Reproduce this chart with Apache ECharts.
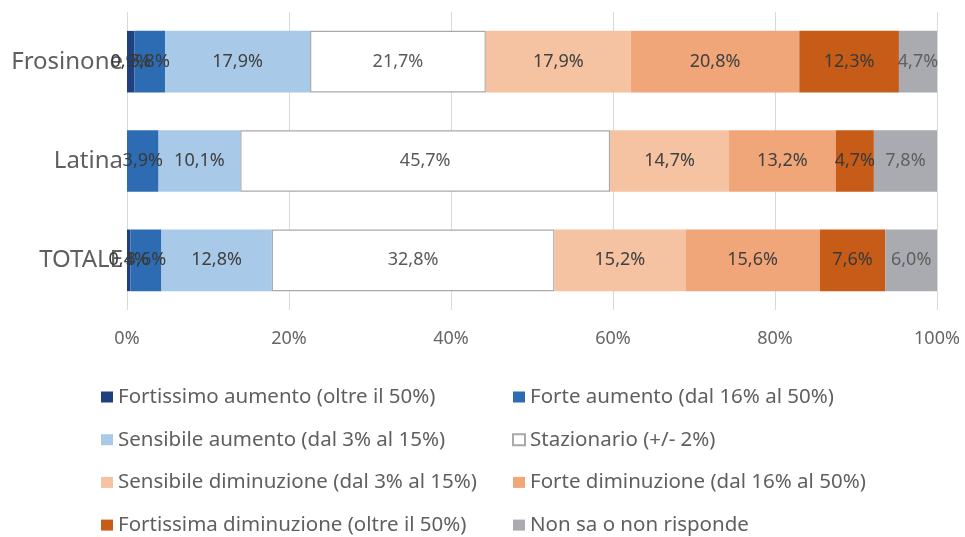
<!DOCTYPE html>
<html>
<head>
<meta charset="utf-8">
<script src="https://cdn.jsdelivr.net/npm/echarts@6/dist/echarts.min.js"></script>
<style>
  html, body { margin: 0; padding: 0; background: #ffffff; }
  #chart { width: 965px; height: 537px; }
</style>
</head>
<body>
<div id="chart"></div>
<script>
// Territories, top to bottom
const categories = ['Frosinone', 'Latina', 'TOTALE'];

// Survey answers (%), one array per answer class, in category order
const fortissimoAumento   = [0.9, 0.0, 0.4];
const forteAumento        = [3.8, 3.9, 3.6];
const sensibileAumento    = [17.9, 10.1, 12.8];
const stazionario         = [21.7, 45.7, 32.8];
const sensibileDiminuz    = [17.9, 14.7, 15.2];
const forteDiminuz        = [20.8, 13.2, 15.6];
const fortissimaDiminuz   = [12.3, 4.7, 7.6];
const nonSa               = [4.7, 7.8, 6.0];

const xTicks = [0, 20, 40, 60, 80, 100];

const seriesDefs = [
  { name: 'Fortissimo aumento (oltre il 50%)',      data: fortissimoAumento, color: '#1f3f7e', text: '#3a3a3a' },
  { name: 'Forte aumento (dal 16% al 50%)',         data: forteAumento,      color: '#2d6cb3', text: '#3a3a3a' },
  { name: 'Sensibile aumento (dal 3% al 15%)',      data: sensibileAumento,  color: '#a8cae8', text: '#404040' },
  { name: 'Stazionario (+/- 2%)',                   data: stazionario,       color: '#ffffff', text: '#595959', border: '#a9a9a9' },
  { name: 'Sensibile diminuzione (dal 3% al 15%)',  data: sensibileDiminuz,  color: '#f5c2a2', text: '#404040' },
  { name: 'Forte diminuzione (dal 16% al 50%)',     data: forteDiminuz,      color: '#f0a679', text: '#404040' },
  { name: 'Fortissima diminuzione (oltre il 50%)',  data: fortissimaDiminuz, color: '#c65c18', text: '#3a3a3a' },
  { name: 'Non sa o non risponde',                  data: nonSa,             color: '#a9abb0', text: '#5f5f5f' }
];

// Each bar is a 100% stack: share of the row total
const rowTotals = categories.map((_, i) =>
  seriesDefs.reduce((s, d) => s + d.data[i], 0));

const fmt = v => v.toFixed(1).replace('.', ',') + '%';

const FONT = '"Noto Sans", sans-serif';

const series = seriesDefs.map(d => ({
  name: d.name,
  type: 'bar',
  stack: 'tot',
  barWidth: '62%',
  data: d.data.map((v, i) => ({ value: v / rowTotals[i] * 100, raw: v })),
  itemStyle: {
    color: d.color,
    borderColor: d.border || d.color,
    borderWidth: d.border ? 1.2 : 0
  },
  label: {
    show: true,
    position: 'inside',
    color: d.text,
    fontFamily: FONT,
    fontSize: 18,
    formatter: p => (p.data.raw > 0 ? fmt(p.data.raw) : '')
  },
  emphasis: { disabled: true }
}));

const legendText = { color: '#5f5f5f', fontFamily: FONT, fontSize: 20.5, lineHeight: 22 };
const names = seriesDefs.map(d => d.name);

const chart = echarts.init(document.getElementById('chart'), null, { renderer: 'canvas' });
chart.setOption({
  animation: false,
  backgroundColor: '#ffffff',
  grid: { left: 127, right: 28, top: 12, bottom: 227, containLabel: false },
  xAxis: {
    type: 'value',
    min: xTicks[0],
    max: xTicks[xTicks.length - 1],
    interval: xTicks[1] - xTicks[0],
    axisLine: { show: false },
    axisTick: { show: false },
    splitLine: { show: true, lineStyle: { color: '#d9d9d9', width: 1 } },
    axisLabel: { color: '#666666', fontFamily: FONT, fontSize: 18, margin: 20, formatter: '{value}%' }
  },
  yAxis: {
    type: 'category',
    data: categories,
    inverse: true,
    axisLine: { show: false },
    axisTick: { show: false },
    axisLabel: { color: '#5f5f5f', fontFamily: FONT, fontSize: 24, margin: 4 }
  },
  legend: [
    {
      data: names.filter((_, i) => i % 2 === 0),
      orient: 'vertical', left: 96, top: 381, height: 160, width: 420,
      itemWidth: 12, itemHeight: 11, itemGap: 20.7,
      icon: 'rect',
      textStyle: legendText
    },
    {
      data: names.filter((_, i) => i % 2 === 1),
      orient: 'vertical', left: 507, top: 381, height: 160, width: 420,
      itemWidth: 12, itemHeight: 11, itemGap: 20.7,
      icon: 'rect',
      textStyle: legendText
    }
  ],
  series: series
});
</script>
</body>
</html>
